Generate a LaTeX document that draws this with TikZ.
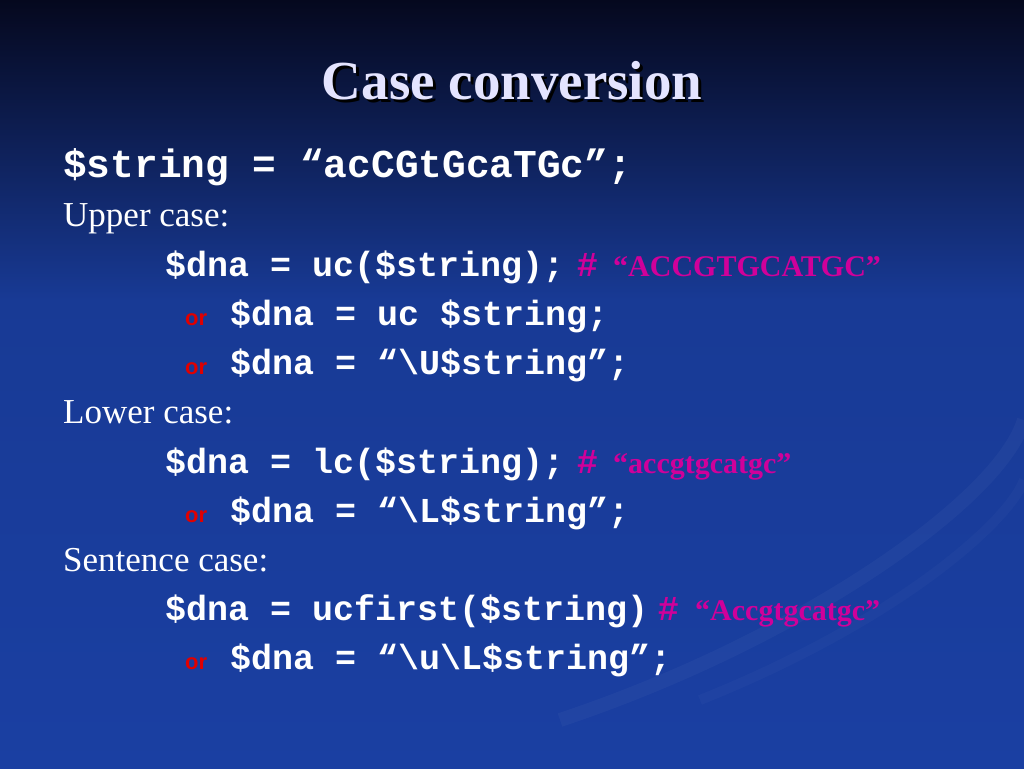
\documentclass[tikz,border=0pt]{standalone}
\usepackage{fontspec}
\setmainfont{Liberation Serif}
\newfontfamily\codef{Liberation Mono}
\newfontfamily\orf{Liberation Sans}
\definecolor{bgtop}{HTML}{05081E}
\definecolor{bgmid}{HTML}{183A95}
\definecolor{bgbot}{HTML}{1A3FA2}
\definecolor{ttl}{HTML}{E4E4FF}
\definecolor{mag}{HTML}{D0009A}
\definecolor{orred}{HTML}{E00000}
\begin{document}
\begin{tikzpicture}[x=1pt,y=-1pt,
  code/.style={anchor=base west,inner sep=0pt,text=white,font=\codef\bfseries\fontsize{35}{38}\selectfont},
  lbl/.style={anchor=base west,inner sep=0pt,text=white,font=\fontsize{35}{38}\selectfont},
  orl/.style={anchor=base west,inner sep=0pt,text=orred,font=\orf\bfseries\fontsize{22}{24}\selectfont},
  cmt/.style={anchor=base west,inner sep=0pt,text=mag,font=\bfseries\fontsize{30}{34}\selectfont}]
\useasboundingbox (0,0) rectangle (1024,768);
\shade[top color=bgtop,bottom color=bgmid] (0,0) rectangle (1024,300);
\fill[bgmid] (0,299) rectangle (1024,768);
\shade[top color=bgmid,bottom color=bgbot] (0,300) rectangle (1024,768);
\draw[white,opacity=0.03,line width=14pt] (560,720) .. controls (800,640) and (1000,500) .. (1024,420);
\draw[white,opacity=0.025,line width=10pt] (700,700) .. controls (900,620) and (1010,520) .. (1024,480);
\node (tsh)[anchor=base,inner sep=0pt,text=black,font=\bfseries\fontsize{55}{58}\selectfont] at (515,102) {Case conversion};
\node (title)[anchor=base,inner sep=0pt,text=ttl,font=\bfseries\fontsize{55}{58}\selectfont] at (512,99) {Case conversion};
\node (l1)[code,font=\codef\bfseries\fontsize{39.5}{42}\selectfont] at (63,177) {\$string = “acCGtGcaTGc”;};
\node (u)[lbl] at (63,226) {Upper case:};
\node (u1)[code] at (165,276) {\$dna = uc(\$string);};
\node (c1)[code,text=mag,anchor=base east] at (598,276) {\#};
\node (c1b)[cmt] at (613,276) {“ACCGTGCATGC”};
\node (o1)[orl] at (185,325) {or};
\node (u2)[code] at (230,325) {\$dna = uc \$string;};
\node (o2)[orl] at (185,374) {or};
\node (u3)[code] at (230,374) {\$dna = “\textbackslash U\$string”;};
\node (lw)[lbl] at (63,423) {Lower case:};
\node (l2)[code] at (165,473) {\$dna = lc(\$string);};
\node (c2)[code,text=mag,anchor=base east] at (598,473) {\#};
\node (c2b)[cmt] at (613,473) {“accgtgcatgc”};
\node (o3)[orl] at (185,522) {or};
\node (l3)[code] at (230,522) {\$dna = “\textbackslash L\$string”;};
\node (s)[lbl] at (63,571) {Sentence case:};
\node (s1)[code] at (165,620) {\$dna = ucfirst(\$string)};
\node (c3)[code,text=mag,anchor=base east] at (679,620) {\#};
\node (c3b)[cmt] at (695,620) {“Accgtgcatgc”};
\node (o4)[orl] at (185,669) {or};
\node (s2)[code] at (230,669) {\$dna = “\textbackslash u\textbackslash L\$string”;};
\end{tikzpicture}
\end{document}
